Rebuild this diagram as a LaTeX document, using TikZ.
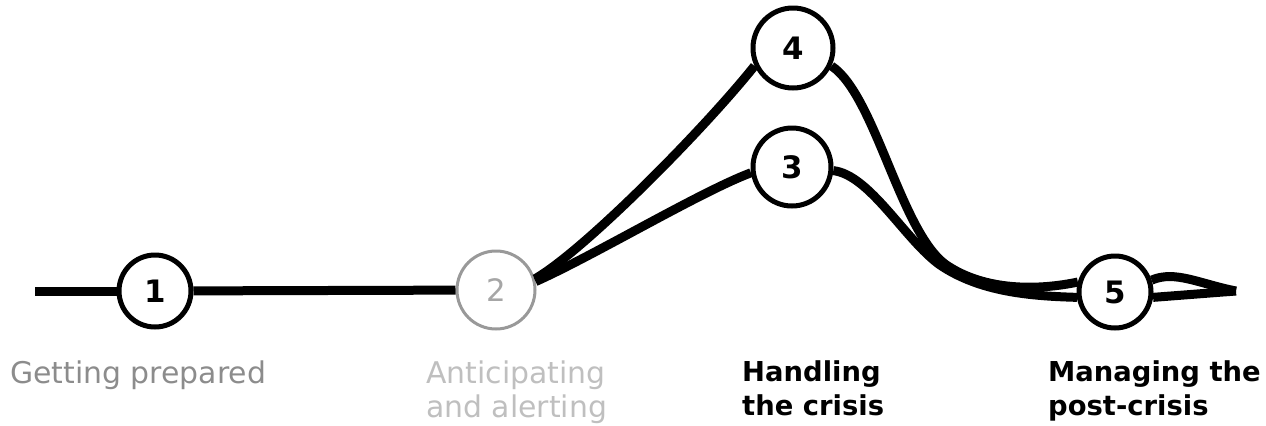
\documentclass[tikz,border=0pt]{standalone}
\usepackage{fontspec}
\setmainfont{DejaVu Sans}
\begin{document}
\begin{tikzpicture}[x=1bp,y=-1bp,
  stage/.style={circle, draw=black, line width=5bp, fill=white, inner sep=0pt, minimum size=#1, font=\fontsize{31}{31}\selectfont\bfseries},
  track/.style={line width=9bp, black},
  lbl/.style={anchor=north west, inner sep=0pt, align=left, font=\fontsize{30}{34}\selectfont},
  lblbold/.style={lbl, font=\fontsize{27.5}{35}\selectfont\bfseries}]
\useasboundingbox (0,0) rectangle (1266,425);
% stages
\node[stage=72bp] (n1) at (155,291) {1};
\node[stage=78bp, draw=black!40, line width=3bp, text=black!35, font=\fontsize{31}{31}\selectfont] (n2) at (496,290) {2};
\node[stage=78bp] (n3) at (792,167) {3};
\node[stage=80bp] (n4) at (793,48) {4};
\node[stage=72bp] (n5) at (1115,292) {5};
\coordinate (s) at (35,291);
\coordinate (e) at (1236,291);
% tracks
\draw[track] (s) -- (n1);
\draw[track] (n1) -- (n2);
\draw[track] (n2.16) .. controls (585,250) and (705,128) .. (n4.205);
\draw[track] (n2.12) .. controls (595,255) and (700,192) .. (n3.188);
\draw[track] (n4.335) .. controls (875,95) and (900,230) .. (945,264) .. controls (985,292) and (1040,290) .. (n5.165);
\draw[track] (n3.355) .. controls (870,175) and (905,240) .. (940,265) .. controls (980,292) and (1030,296) .. (n5.188);
\draw[track] (n5.18) .. controls (1175,270) and (1200,284) .. (e);
\draw[track] (n5.-8) -- (e);
% labels
\node[lbl, text=black!45] (l1) at (10,361) {Getting prepared};
\node[lbl, text=black!25] (l2) at (426,361) {Anticipating\\and alerting};
\node[lblbold] (l3) at (742,360) {Handling\\the crisis};
\node[lblbold] (l4) at (1048,360) {Managing the\\post-crisis};
\end{tikzpicture}
\end{document}
